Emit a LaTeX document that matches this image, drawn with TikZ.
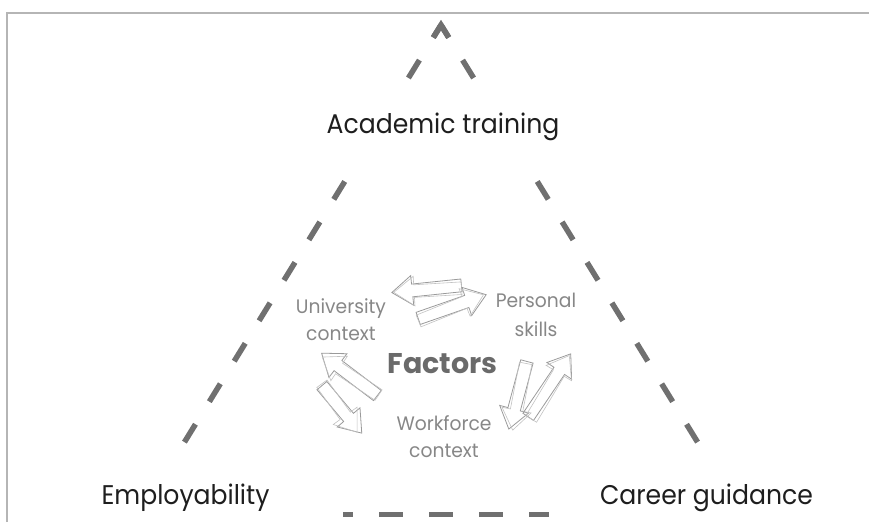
\documentclass[tikz,border=0pt]{standalone}
\usepackage{fontspec}
\setmainfont{Poppins}
\newfontfamily\cornerfont[FakeStretch=0.93]{Poppins}
\newfontfamily\smallfont[FakeStretch=0.96]{Poppins}
\usetikzlibrary{shapes.arrows,calc}
\definecolor{frameGray}{HTML}{B5B5B5}
\definecolor{dashGray}{HTML}{707070}
\definecolor{arrowGray}{HTML}{9A9A9A}
\definecolor{labelGray}{HTML}{878787}
\definecolor{factorGray}{HTML}{6A6A6A}
\definecolor{inkBlack}{HTML}{1E1E1E}
\begin{document}
\begin{tikzpicture}[x=1pt,y=-1pt,
  side/.style={draw=dashGray, line width=5.5pt, dash pattern=on 21pt off 26.5pt, dash phase=6.3pt},
  basedash/.style={draw=dashGray, line width=5.5pt, dash pattern=on 24pt off 26pt, dash phase=10.8pt},
  mainlabel/.style={fill=white, text=inkBlack, anchor=base, inner sep=0pt,
    font=\cornerfont\fontsize{27}{32}\selectfont},
  factor/.style={text=labelGray, anchor=base, inner sep=0pt, font=\smallfont\fontsize{19.5}{24}\selectfont},
  title/.style={text=factorGray, anchor=base, inner sep=0pt, font=\fontsize{28.5}{32}\selectfont\bfseries},
  sketcharrow/.style={single arrow, draw=arrowGray, line width=0.8pt, fill=none,
    inner xsep=0pt, inner ysep=6pt, single arrow head extend=8.5pt,
    single arrow tip angle=72, single arrow head indent=0pt},
  sketchghost/.style={sketcharrow, draw=arrowGray!60, line width=0.6pt}
]
\useasboundingbox (0,0) rectangle (869,522);

% outer frame (only top and left edges)
\coordinate (frameBL) at (7,522);
\coordinate (frameTL) at (7,13);
\coordinate (frameTR) at (869,13);
\draw[frameGray, line width=2.5pt] (frameBL) -- (frameTL) -- (frameTR);

% dashed triangle
\coordinate (apex) at (441,25);
\coordinate (cornerL) at (139.8,514.7);
\coordinate (cornerR) at (742.2,514.7);
\draw[side] (apex) -- (cornerL);
\draw[side] (apex) -- (cornerR);
\draw[basedash] (cornerL) -- (cornerR);
\draw[dashGray, line width=5.5pt, line join=miter] ($(apex)!14.7pt!(cornerL)$) -- (apex) -- ($(apex)!14.7pt!(cornerR)$);

% corner labels on white plates
\node[mainlabel, minimum width=285pt, text height=45pt, text depth=30pt] (academic) at (443,133) {Academic training};
\node[mainlabel, minimum width=315pt, text height=44pt, text depth=18pt] (employ) at (185.5,504) {Employability};
\node[mainlabel, minimum width=315pt, text height=44pt, text depth=18pt] (career) at (706.5,504) {Career guidance};

% factors in the middle
\node[title] (factors) at (442.5,373) {Factors};
\node[factor] (uniA) at (341,313) {University};
\node[factor] (uniB) at (341,340) {context};
\node[factor] (persA) at (536,307) {Personal};
\node[factor] (persB) at (536,336) {skills};
\node[factor] (workA) at (444,430) {Workforce};
\node[factor] (workB) at (444,457) {context};

% hand-drawn looking exchange arrows
\node[sketcharrow, minimum height=70pt, rotate=185.9] (upL) at (431,288.5) {};
\node[sketchghost, minimum height=68pt, rotate=183.5] (upLg) at (432,290) {};
\node[sketcharrow, minimum height=72pt, rotate=19.2] (upR) at (448,308) {};
\node[sketchghost, minimum height=70pt, rotate=22] (upRg) at (447,309.5) {};

\node[sketcharrow, minimum height=70pt, rotate=142.8] (leftUp) at (353,377) {};
\node[sketchghost, minimum height=68pt, rotate=146] (leftUpg) at (354,378.5) {};
\node[sketcharrow, minimum height=62pt, rotate=-50] (leftDn) at (339,406) {};
\node[sketchghost, minimum height=60pt, rotate=-54] (leftDng) at (337,404.5) {};

\node[sketcharrow, minimum height=70pt, rotate=-105] (rightDn) at (519,391) {};
\node[sketchghost, minimum height=68pt, rotate=-101] (rightDng) at (520,392.5) {};
\node[sketcharrow, minimum height=76pt, rotate=56] (rightUp) at (547,389) {};
\node[sketchghost, minimum height=74pt, rotate=59] (rightUpg) at (548,391) {};
\end{tikzpicture}
\end{document}
